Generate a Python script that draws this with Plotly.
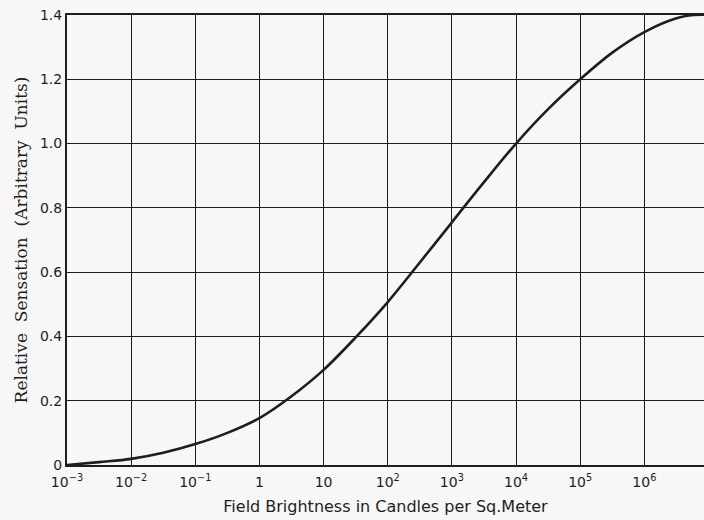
import plotly.graph_objects as go

# Field brightness (candles per sq. meter) and relative sensation
brightness = [1e-3, 10**-2.5, 1e-2, 10**-1.5, 1e-1, 10**-0.5, 1, 10**0.5, 10,
              10**1.5, 1e2, 10**2.5, 1e3, 10**3.5, 1e4, 10**4.5, 1e5, 10**5.5,
              1e6, 10**6.5, 10**6.77, 10**6.93]
sensation = [0.0, 0.009, 0.019, 0.038, 0.065, 0.1, 0.146, 0.214, 0.296,
             0.397, 0.507, 0.63, 0.755, 0.88, 1.0, 1.107, 1.2, 1.283,
             1.347, 1.39, 1.4, 1.401]

x_tickvals = [1e-3, 1e-2, 1e-1, 1, 10, 1e2, 1e3, 1e4, 1e5, 1e6]
x_ticktext = ["10<sup>−3</sup>", "10<sup>−2</sup>", "10<sup>−1</sup>", "1", "10",
              "10<sup>2</sup>", "10<sup>3</sup>", "10<sup>4</sup>", "10<sup>5</sup>", "10<sup>6</sup>"]
y_tickvals = [0, 0.2, 0.4, 0.6, 0.8, 1.0, 1.2, 1.4]
y_ticktext = ["0", "0.2", "0.4", "0.6", "0.8", "1.0", "1.2", "1.4"]

ink = "#1e1e1e"
bg = "#f7f7f7"

fig = go.Figure()
fig.add_trace(go.Scatter(
    x=brightness, y=sensation, mode="lines",
    line=dict(color=ink, width=2.6, shape="spline", smoothing=1.0),
    hoverinfo="skip", showlegend=False,
))

fig.update_layout(
    width=704, height=520,
    paper_bgcolor=bg, plot_bgcolor=bg,
    margin=dict(l=67, r=0, t=15, b=55),
    font=dict(family="DejaVu Sans", color=ink, size=14),
)
fig.update_xaxes(
    type="log", range=[-3, 6.93], automargin=False,
    tickvals=x_tickvals, ticktext=x_ticktext,
    showgrid=True, gridcolor=ink, gridwidth=1.2,
    showline=True, linecolor=ink, linewidth=2, mirror=True,
    ticks="", zeroline=False, ticklabelstandoff=3,
    tickfont=dict(family="DejaVu Sans", size=14, color=ink),
    title=dict(text="Field Brightness in Candles per Sq.Meter",
               font=dict(family="DejaVu Sans", size=16, color=ink), standoff=12),
)
fig.update_yaxes(
    range=[0, 1.4], automargin=False,
    tickvals=y_tickvals, ticktext=y_ticktext,
    showgrid=True, gridcolor=ink, gridwidth=1.2,
    showline=True, linecolor=ink, linewidth=2,
    ticks="", zeroline=False,
    tickfont=dict(family="DejaVu Sans", size=14, color=ink),
    title=dict(text="Relative  Sensation  (Arbitrary  Units)" + "\u00a0" * 6,
               font=dict(family="DejaVu Serif", size=17, color=ink), standoff=8),
)

fig.write_html("out.html",
               config={"displayModeBar": False},
               post_script="document.body.style.margin='0';document.body.style.background='#f7f7f7';")
